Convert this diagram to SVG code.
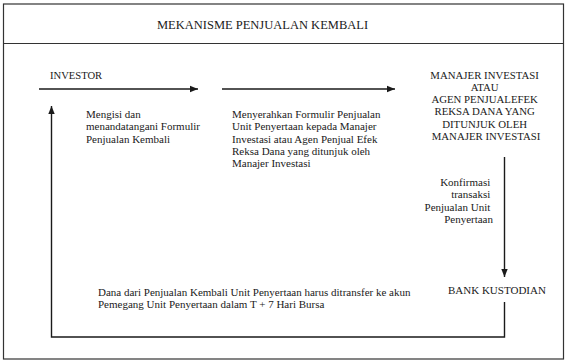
<svg xmlns="http://www.w3.org/2000/svg" width="566" height="361" viewBox="0 0 566 361">
<style>
text{font-family:"Liberation Serif","Times New Roman",serif;fill:#1a1a1a}
.t{font-size:12.5px}
.b{font-size:11px}
.line{stroke:#1a1a1a;stroke-width:1.4;fill:none}
</style>
<defs>
<marker id="ah" viewBox="0 0 10 10" refX="10" refY="5" markerWidth="8" markerHeight="8" markerUnits="userSpaceOnUse" orient="auto"><path d="M0,1 L10,5 L0,9 Z" fill="#1a1a1a"/></marker>
</defs>
<rect x="0" y="0" width="566" height="361" fill="#fff"/>
<rect x="3.5" y="4" width="560" height="355" fill="none" stroke="#333" stroke-width="1.2"/>
<line x1="3.5" y1="43.5" x2="563.5" y2="43.5" stroke="#333" stroke-width="1.2"/>
<g id="title"><text class="t" x="262.5" y="29" text-anchor="middle">MEKANISME PENJUALAN KEMBALI</text></g>
<g id="investor"><text class="b" x="50" y="79" style="font-size:10.6px">INVESTOR</text></g>
<g id="manajer"><text class="b" text-anchor="middle" style="font-size:10.8px">
<tspan x="486" y="78.5">MANAJER INVESTASI</tspan>
<tspan x="486" y="90.8">ATAU</tspan>
<tspan x="486" y="103.1">AGEN PENJUALEFEK</tspan>
<tspan x="486" y="115.4">REKSA DANA YANG</tspan>
<tspan x="486" y="127.7">DITUNJUK OLEH</tspan>
<tspan x="486" y="140">MANAJER INVESTASI</tspan>
</text></g>
<g id="bank"><text class="b" x="448" y="294">BANK KUSTODIAN</text></g>
<g id="label-mengisi"><text class="b">
<tspan x="86" y="118">Mengisi dan</tspan>
<tspan x="86" y="130.3">menandatangani Formulir</tspan>
<tspan x="86" y="142.6">Penjualan Kembali</tspan>
</text></g>
<g id="label-menyerahkan"><text class="b">
<tspan x="232" y="118">Menyerahkan Formulir Penjualan</tspan>
<tspan x="232" y="130.3">Unit Penyertaan kepada Manajer</tspan>
<tspan x="232" y="142.6">Investasi atau Agen Penjual Efek</tspan>
<tspan x="232" y="154.9">Reksa Dana yang ditunjuk oleh</tspan>
<tspan x="232" y="167.2">Manajer Investasi</tspan>
</text></g>
<g id="label-konfirmasi"><text class="b" text-anchor="end">
<tspan x="493" y="186">Konfirmasi</tspan>
<tspan x="493" y="198.3">transaksi</tspan>
<tspan x="493" y="210.6">Penjualan Unit</tspan>
<tspan x="493" y="222.9">Penyertaan</tspan>
</text></g>
<g id="label-dana"><text class="b">
<tspan x="98" y="295.5">Dana dari Penjualan Kembali Unit Penyertaan harus ditransfer ke akun</tspan>
<tspan x="98" y="307.8">Pemegang Unit Penyertaan dalam T + 7 Hari Bursa</tspan>
</text></g>
<g id="connectors">
<line class="line" x1="39" y1="89" x2="198" y2="89" marker-end="url(#ah)"/>
<line class="line" x1="222" y1="89" x2="395" y2="89" marker-end="url(#ah)"/>
<line class="line" x1="504.5" y1="157" x2="504.5" y2="277" marker-end="url(#ah)"/>
<polyline class="line" points="504.5,302 504.5,337 51.5,337 51.5,106" marker-end="url(#ah)"/>
</g>
</svg>
